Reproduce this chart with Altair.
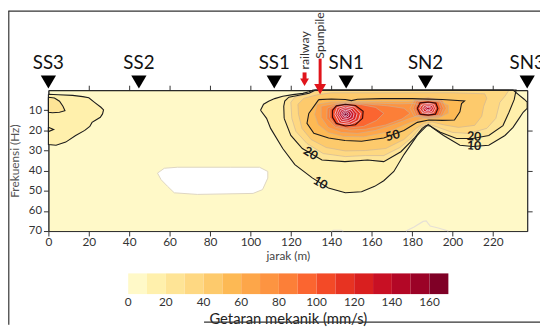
import altair as alt
import pandas as pd

# ---------------- axis extents / ticks ----------------
X_MAX = 237
F_MAX = 70
X_TICKS = list(range(0, 221, 20))
X_TICKS_TOP = list(range(20, 221, 20))
F_TICKS = list(range(10, 71, 10))
F_TICKS_RIGHT = [20, 40, 60]

# ---------------- colour bar (mm/s) ----------------
BIN_STARTS = list(range(0, 161, 10))
BIN_COLORS = ["#fff9c8", "#fff0ac", "#fee496", "#fed882", "#fdca6c", "#fdb954",
              "#fda649", "#fd9441", "#fc7f38", "#fb6530", "#f34a27", "#e73322",
              "#d91f1f", "#c81024", "#b30726", "#9b0227", "#7f0026"]
CB_LABELS = list(range(0, 161, 20))

# ---------------- stations ----------------
STATIONS = ["SS3", "SS2", "SS1", "SN1", "SN2", "SN3"]
STATION_X = [0, 44.8, 111.8, 147.4, 186.7, 237]
RAILWAY_X = 126.8
SPUNPILE_X = 134.5

# ---------------- contour labels ----------------
CL_TEXT = ["20", "10", "50", "20", "10"]
CL_X = [129.8, 134.6, 170.4, 210.7, 210.7]
CL_F = [31.4, 46.1, 22.6, 23.0, 27.6]
CL_ANGLE = [32, 30, 345, 4, 4]

# ---------------- contour polygons (jarak m, frekuensi Hz) ----------------
LOBE_10 = [(0, 2.0), (5, 2.3), (12, 2.6), (17, 3.2), (20, 3.8), (23, 6.2), (26, 8.5), (27.3, 9.8),
           (26.8, 11.8), (25.7, 13.5), (23.5, 14.8), (21.6, 16), (20.5, 18), (18, 20), (13.5, 22.5),
           (8.6, 25.8), (3.8, 27.4), (0, 27)]
LOBE_20 = [(0, 3.5), (3, 3.9), (5.5, 5.5), (7.2, 8), (8.2, 10.2), (5.5, 11), (2, 11.2), (0, 11)]
NOTCH_20 = [(0, 18.4), (2.6, 19.5), (0, 20.6)]

MAIN_10 = [(105, 10), (106.5, 7), (109, 5.5), (112, 4.2), (116, 3), (121, 2.2), (126, 1.6), (129, 0.8),
           (131, 0), (230, 0), (233, 2.5), (235.5, 4.5), (237, 6), (237, 9), (235, 11), (233, 14),
           (230, 18.5), (226, 22.5), (218, 27.4), (210, 28), (203.7, 27.4), (195.6, 22.5), (190.5, 19),
           (188, 17), (185, 20), (182.6, 22.5), (176, 32), (171, 40.4), (166, 45), (161.5, 47.8),
           (155, 50.5), (147, 51), (138.6, 48.6), (130.6, 43.6), (122, 37), (116, 29), (110, 19),
           (108, 14)]
MAIN_20 = [(116.7, 14), (116.5, 8), (117, 5.4), (119, 3.5), (124, 2.5), (129, 1.5), (132, 0),
           (231.5, 0), (230.6, 4.6), (228, 11), (225, 17.6), (218, 22.5), (210, 24), (202, 24),
           (194, 20.9), (189, 17.8), (187, 17.6), (185, 19), (181, 24), (174.5, 30.6), (166, 35.5),
           (158, 34.7), (146.8, 35.5), (135.4, 34.7), (125.7, 29), (120, 22.5)]
MAIN_30 = [(120, 6), (122, 3.5), (127, 2.3), (132, 0.5), (134, 0), (228, 0), (226, 3), (223.5, 6),
           (222.5, 10), (221.5, 14), (217, 19), (208, 21.5), (200, 21), (193, 18.5), (188, 16.8),
           (184, 18.5), (180, 23.5), (174, 28.5), (166, 32.5), (157, 32.5), (147, 33), (136, 31.5),
           (128, 26.5), (122.5, 20.5), (120.5, 14)]
MAIN_40 = [(123.5, 7), (126.5, 4), (133, 2.3), (140, 1.3), (160, 1.3), (180, 1.3), (200, 1.3), (216, 1.8),
           (217, 4), (215.5, 8), (214.5, 13), (211, 17.5), (203, 18.5), (196, 17.3), (190, 15.8), (186, 16.5),
           (182, 19), (176, 24.5), (167, 29), (157, 30), (147, 30.2), (137.5, 28.5), (130, 24.5),
           (125.5, 19), (123.8, 12)]
MAIN_50 = [(133.8, 4.7), (140, 4.4), (147, 4.6), (150, 5.2), (153, 4.5), (165, 4.2), (180, 4.2),
           (195, 4.6), (206, 5.4), (204.5, 6.7), (203.7, 10.8), (201, 14.8), (195, 15), (188.3, 14.8),
           (182.6, 16), (176, 20), (166, 23.8), (155, 25.4), (146.8, 25), (138.7, 23.8), (131.4, 21.4),
           (128, 16.5), (128.9, 11.6)]
MAIN_60 = [(133, 7), (140, 5.8), (150, 5.7), (165, 5.6), (178, 5.6), (186, 5), (193, 5.3), (198, 7.5),
           (198, 11.5), (193, 13.8), (186, 14), (178, 16.5), (168, 20.8), (156, 23.2), (146, 23),
           (138.5, 21), (133.5, 17), (131.8, 12)]
MAIN_70 = [(135, 8), (143, 6.4), (152, 6.2), (163, 6.5), (174, 6.8), (181, 6.6), (186, 8),
           (185, 12), (179, 14), (171, 17), (162, 20), (153, 21.5), (145, 21), (138.5, 18.5),
           (135, 13.5)]
P1_80 = [(138, 9), (143, 6.8), (149, 6.3), (158, 6.9), (168, 7.8), (176, 9), (179, 11.5), (175, 14.3),
         (167, 17.3), (157, 19.4), (149, 19.8), (142, 18.4), (137.8, 14)]
P1_90 = [(139.3, 9.5), (143, 7.2), (148, 6.7), (155, 7.2), (162, 8.6), (166, 11.5), (162.5, 15),
         (156, 18), (148, 18.9), (142, 17.6), (139.2, 13.5)]
P1_100 = [(140.6, 10), (142.5, 7.8), (147, 7.1), (152, 7.6), (155.8, 10.5), (155.5, 14), (152, 17.2),
          (147, 17.8), (142.5, 16.5), (140.6, 13.5)]
P1_110 = [(141.8, 12), (143, 8.6), (147, 7.6), (151.5, 8.4), (154.5, 11.5), (153.5, 15), (149.5, 17),
          (144, 16.3)]
P1_120 = [(142.8, 12), (144, 9.3), (147, 8.4), (150.5, 9.1), (152.8, 11.7), (152, 14.5), (149, 16),
          (144.8, 15.4)]
P1_130 = [(143.8, 12), (144.8, 9.9), (147, 9.2), (149.8, 9.8), (151.3, 11.8), (150.7, 14), (148.6, 15),
          (145.4, 14.6)]
P1_140 = [(144.8, 12), (145.5, 10.5), (147, 10), (149, 10.4), (150, 11.9), (149.5, 13.4), (148.1, 14.1),
          (146, 13.8)]
P1_150 = [(145.6, 12), (146.1, 11), (147, 10.7), (148.2, 11), (148.8, 11.9), (148.5, 12.9),
          (147.6, 13.3), (146.4, 13.1)]
P1_160 = [(146.3, 12), (146.6, 11.5), (147, 11.3), (147.6, 11.5), (147.9, 12), (147.7, 12.5),
          (147.2, 12.8), (146.7, 12.6)]
P2_70 = [(179, 9), (181, 5), (188, 3.8), (195, 5), (197, 9), (195, 12.8), (188, 14), (181, 13)]
P2_80 = [(180.5, 9), (182, 5.3), (188, 4.5), (194, 5.4), (195.5, 9), (194, 12.6), (188, 13.5), (182, 12.7)]
P2_90 = [(181.6, 9.1), (183, 5.7), (188, 5.1), (193.2, 5.8), (194.3, 9.1), (193, 12.5), (188, 13.1),
         (183, 12.6)]
P2_100 = [(182.6, 9.1), (184, 6.3), (188, 5.9), (191.8, 6.4), (192.8, 9.1), (191.6, 11.9), (188, 12.4),
          (184, 11.9)]
P2_110 = [(183.8, 9.1), (185, 7), (188, 6.6), (190.8, 7), (191.6, 9.1), (190.6, 11.2), (188, 11.7),
          (185.2, 11.2)]
P2_120 = [(185, 9.1), (186, 7.6), (188, 7.3), (190, 7.6), (190.6, 9.1), (189.8, 10.6), (188, 11),
          (186, 10.6)]
P2_130 = [(186.2, 9.1), (186.8, 8.2), (188, 8), (189.2, 8.2), (189.6, 9.1), (189, 10), (188, 10.3),
          (186.9, 10)]
P2_140 = [(187, 9.1), (187.4, 8.6), (188, 8.5), (188.6, 8.6), (188.9, 9.1), (188.6, 9.6), (188, 9.8),
          (187.4, 9.6)]

WHITE_BLOB = [(54, 41.2), (57.4, 38.8), (63.9, 38.3), (90, 38.3), (104.5, 38.3), (108.6, 40.4),
              (108.6, 43.7), (106, 49.4), (101.3, 51.3), (73.7, 51.8), (62.3, 51), (59, 47.8),
              (55.8, 44.5)]
BOTTOM_LINE_A = [(177, 70), (181, 68), (185.5, 65.2), (187, 65), (189, 67.5), (193, 68.5), (198, 70)]
BOTTOM_LINE_B = [(140, 70), (141, 69.6), (145, 69.6), (146, 70)]

POLYS = [
    ("lobe10", 10, LOBE_10), ("main10", 10, MAIN_10),
    ("lobe20", 20, LOBE_20), ("notch20", 20, NOTCH_20), ("main20", 20, MAIN_20),
    ("main30", 30, MAIN_30), ("main40", 40, MAIN_40), ("main50", 50, MAIN_50),
    ("main60", 60, MAIN_60), ("main70", 70, MAIN_70), ("p2_70", 70, P2_70),
    ("p1_80", 80, P1_80), ("p2_80", 80, P2_80), ("p1_90", 90, P1_90), ("p2_90", 90, P2_90),
    ("p1_100", 100, P1_100), ("p2_100", 100, P2_100), ("p1_110", 110, P1_110), ("p2_110", 110, P2_110),
    ("p1_120", 120, P1_120), ("p2_120", 120, P2_120), ("p1_130", 130, P1_130), ("p2_130", 130, P2_130),
    ("p1_140", 140, P1_140), ("p2_140", 140, P2_140), ("p1_150", 150, P1_150), ("p1_160", 160, P1_160),
]


def poly_frame(polys):
    rows = []
    for k, (name, level, pts) in enumerate(polys):
        closed = list(pts) + [pts[0]]
        for i, (x, f) in enumerate(closed):
            rows.append({"poly": f"{k:02d}_{name}", "level": level, "i": i, "x": x, "f": f})
    return pd.DataFrame(rows)


poly_df = poly_frame(POLYS)
blob_df = poly_frame([("blob", -5, WHITE_BLOB)])
bline_df = pd.concat([
    pd.DataFrame({"poly": "a", "i": range(len(BOTTOM_LINE_A)),
                  "x": [p[0] for p in BOTTOM_LINE_A], "f": [p[1] for p in BOTTOM_LINE_A]}),
    pd.DataFrame({"poly": "b", "i": range(len(BOTTOM_LINE_B)),
                  "x": [p[0] for p in BOTTOM_LINE_B], "f": [p[1] for p in BOTTOM_LINE_B]}),
])

FONT = "Lato"
PLOT_W, PLOT_H = 486, 143
PAD_L, PAD_T, PAD_R, PAD_B = 41, 81, 13, 95

x_scale = alt.Scale(domain=[0, X_MAX], nice=False, zero=False)
y_scale = alt.Scale(domain=[0, F_MAX], reverse=True, nice=False, zero=False)
color_scale = alt.Scale(type="threshold", domain=BIN_STARTS[1:], range=BIN_COLORS)

x_bottom = alt.Axis(orient="bottom", values=X_TICKS, title="jarak (m)", tickSize=5, tickColor="#333",
                    domainColor="#333", labelFont=FONT, labelFontSize=12, labelColor="#333", labelPadding=1,
                    titleFont=FONT, titleFontSize=12, titleFontWeight="normal", titleColor="#444",
                    titlePadding=3, grid=False, labelFlush=False)
y_left = alt.Axis(orient="left", values=F_TICKS, title="Frekuensi (Hz)", tickSize=5, tickColor="#333",
                  domainColor="#333", labelFont=FONT, labelFontSize=11.5, labelColor="#333", labelPadding=2,
                  titleFont=FONT, titleFontSize=12, titleFontWeight="normal", titleColor="#555",
                  titlePadding=7, grid=False)
x_top = alt.Axis(orient="top", values=X_TICKS_TOP, labels=False, title=None, tickSize=5,
                 tickColor="#333", domainColor="#222", grid=False)
y_right = alt.Axis(orient="right", values=F_TICKS_RIGHT, labels=False, title=None, tickSize=5,
                   tickColor="#333", domainColor="#333", grid=False)

X = lambda field="x:Q": alt.X(field, scale=x_scale, axis=None)
Y = lambda field="f:Q": alt.Y(field, scale=y_scale, axis=None)

base = alt.Chart(poly_df)

fills = base.mark_line(strokeWidth=0, strokeOpacity=0).encode(
    x=alt.X("x:Q", scale=x_scale, axis=x_bottom),
    y=alt.Y("f:Q", scale=y_scale, axis=y_left),
    fill=alt.Fill("level:Q", scale=color_scale, legend=None),
    detail="poly:N", order="i:Q")

blob = alt.Chart(blob_df).mark_line(fill="white", stroke="#ddd5c2", strokeWidth=1).encode(
    x=X(), y=Y(), detail="poly:N", order="i:Q")


def stroke_layer(levels, color, width, axes=False):
    return base.transform_filter(alt.FieldOneOfPredicate(field="level", oneOf=levels)).mark_line(
        stroke=color, strokeWidth=width).encode(
        x=alt.X("x:Q", scale=x_scale, axis=x_top if axes else None),
        y=alt.Y("f:Q", scale=y_scale, axis=y_right if axes else None),
        detail="poly:N", order="i:Q")


thin = stroke_layer([30, 40, 60, 70, 80, 90], "#c9b29a", 0.6)
inner = stroke_layer([110, 120, 130, 140, 150, 160], "#efd3e3", 0.8)
bold = stroke_layer([10, 20, 50], "#1c1c1c", 1.1, axes=True)
ring = stroke_layer([100], "#3a0b0b", 1.2)

blines = alt.Chart(bline_df).mark_line(stroke="#e6e0d6", strokeWidth=1.2).encode(
    x=X(), y=Y(), detail="poly:N", order="i:Q")

cl_df = pd.DataFrame({"t": CL_TEXT, "x": CL_X, "f": CL_F, "a": CL_ANGLE})
clabels = alt.Chart(cl_df).mark_text(font=FONT, fontSize=12.5, fontWeight="bold", color="#1a1a1a").encode(
    x=X(), y=Y(), text="t:N", angle=alt.Angle("a:Q", scale=None))

st_df = pd.DataFrame({"name": STATIONS, "x": STATION_X})
st_tri = alt.Chart(st_df).mark_point(shape="triangle-down", filled=True, color="black", size=240,
                                     opacity=1).encode(x=X(), y=alt.value(-8.3))
st_txt = alt.Chart(st_df).mark_text(font=FONT, fontSize=19, color="#111", baseline="alphabetic").encode(
    x=X(), y=alt.value(-21), text="name:N")

rw_df = pd.DataFrame({"name": ["railway"], "x": [RAILWAY_X]})
sp_df = pd.DataFrame({"name": ["Spunpile"], "x": [SPUNPILE_X]})
rw_stem = alt.Chart(rw_df).mark_rule(color="#e0141b", strokeWidth=4).encode(
    x=X(), y=alt.value(-18), y2=alt.value(-11))
rw_head = alt.Chart(rw_df).mark_point(shape="triangle-down", filled=True, color="#e0141b", size=81,
                                      opacity=1).encode(x=X(), y=alt.value(-8))
rw_txt = alt.Chart(rw_df).mark_text(font=FONT, fontSize=12.5, color="#333", angle=270, align="left",
                                    baseline="middle").encode(x=X(), y=alt.value(-21), text="name:N")
sp_stem = alt.Chart(sp_df).mark_rule(color="#e0141b", strokeWidth=3).encode(
    x=X(), y=alt.value(-32), y2=alt.value(-4))
sp_head = alt.Chart(sp_df).mark_point(shape="triangle-down", filled=True, color="#e0141b", size=144,
                                      opacity=1).encode(x=X(), y=alt.value(-1))
sp_txt = alt.Chart(sp_df).mark_text(font=FONT, fontSize=12.5, color="#333", angle=270, align="left",
                                    baseline="middle").encode(x=X(), y=alt.value(-32), text="name:N")

# colour bar: bins placed below the plot (bar spans page x 130..455), mapped through the x scale
CB_PX0 = 130 - 8 - PAD_L
CB_PX1 = 455 - 8 - PAD_L
units_per_px = X_MAX / PLOT_W
cb_k = (CB_PX1 - CB_PX0) / 170.0 * units_per_px
cb_c = CB_PX0 * units_per_px

cb_df = pd.DataFrame({"v": BIN_STARTS})
cb_rect = alt.Chart(cb_df).transform_calculate(
    cx=f"{cb_c} + datum.v * {cb_k}", cx2=f"{cb_c} + (datum.v + 10) * {cb_k}").mark_rect().encode(
    x=X("cx:Q"), x2="cx2:Q", y=alt.value(186), y2=alt.value(207),
    fill=alt.Fill("v:Q", scale=color_scale, legend=None))
cbl_df = pd.DataFrame({"v": CB_LABELS, "t": [str(v) for v in CB_LABELS]})
cb_lab = alt.Chart(cbl_df).transform_calculate(cx=f"{cb_c} + datum.v * {cb_k}").mark_text(
    font=FONT, fontSize=12, color="#333", baseline="middle").encode(
    x=X("cx:Q"), y=alt.value(215.5), text="t:N")
cbt_df = pd.DataFrame({"v": [85], "t": ["Getaran mekanik (mm/s)"]})
cb_title = alt.Chart(cbt_df).transform_calculate(cx=f"{cb_c} + datum.v * {cb_k}").mark_text(
    font=FONT, fontSize=15, color="#222", baseline="alphabetic").encode(
    x=X("cx:Q"), y=alt.value(237.5), text="t:N")

# frame lines around the figure
one = pd.DataFrame({"k": [0]})
frame_top = alt.Chart(one).mark_rule(color="#333", strokeWidth=1.2).encode(
    x=alt.value(-PAD_L + 0.5), x2=alt.value(PLOT_W + PAD_R), y=alt.value(-PAD_T + 0.8))
frame_left = alt.Chart(one).mark_rule(color="#333", strokeWidth=1.2).encode(
    x=alt.value(-PAD_L + 0.8), y=alt.value(-PAD_T + 0.5), y2=alt.value(PLOT_H + PAD_B))
frame_bottom = alt.Chart(one).mark_rule(color="#333", strokeWidth=1.2).encode(
    x=alt.value(158), x2=alt.value(PLOT_W + PAD_R), y=alt.value(PLOT_H + PAD_B - 2.5))

chart = alt.layer(fills, blob, thin, inner, ring, bold, blines, clabels, st_tri, st_txt,
                  rw_stem, rw_head, rw_txt, sp_stem, sp_head, sp_txt,
                  cb_rect, cb_lab, cb_title, frame_top, frame_left, frame_bottom).properties(
    width=PLOT_W, height=PLOT_H, autosize="none", background="white",
    padding={"left": PAD_L, "top": PAD_T, "right": PAD_R, "bottom": PAD_B},
).configure_view(stroke="#333", strokeWidth=1, fill=BIN_COLORS[0])

chart.save("out.html", embed_options={"renderer": "svg", "actions": False})
